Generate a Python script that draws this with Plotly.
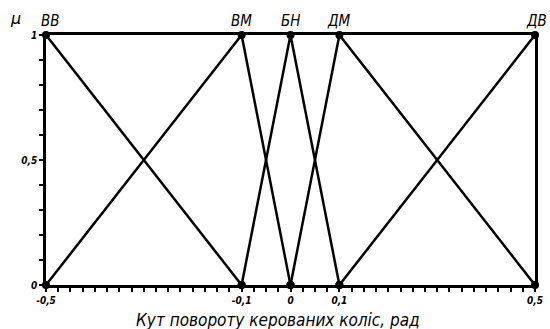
import plotly.graph_objects as go

# ─── Data ────────────────────────────────────────────────────────────────────
TERMS = ["ВВ", "ВМ", "БН", "ДМ", "ДВ"]
PEAKS = [-0.5, -0.1, 0.0, 0.1, 0.5]

# membership functions: (x, mu) vertices
VV_X = [-0.5, -0.1]
VV_Y = [1, 0]
VM_X = [-0.5, -0.1, 0.0]
VM_Y = [0, 1, 0]
BN_X = [-0.1, 0.0, 0.1]
BN_Y = [0, 1, 0]
DM_X = [0.0, 0.1, 0.5]
DM_Y = [0, 1, 0]
DV_X = [0.1, 0.5]
DV_Y = [0, 1]

X_TICKS = [-0.5, -0.1, 0.0, 0.1, 0.5]
X_TICKTEXT = ["-0,5", "-0,1", "0", "0,1", "0,5"]
Y_TICKS = [0, 0.5, 1]
Y_TICKTEXT = ["0", "0,5", "1"]

FONT = "DejaVu Sans Condensed, Liberation Sans Narrow, sans-serif"
BLACK = "#000000"

fig = go.Figure()

for xs, ys in [(VV_X, VV_Y), (VM_X, VM_Y), (BN_X, BN_Y), (DM_X, DM_Y), (DV_X, DV_Y)]:
    fig.add_trace(go.Scatter(
        x=xs, y=ys, mode="lines+markers",
        line=dict(color=BLACK, width=2.5),
        marker=dict(color=BLACK, size=8),
        cliponaxis=False, showlegend=False, hoverinfo="skip",
    ))

# term labels above the peaks (last one kept inside the page)
for term, px_ in zip(TERMS, PEAKS):
    shift = {-0.5: 4, 0.5: 1}.get(px_, 0)
    fig.add_annotation(
        x=px_, y=1, text=term, showarrow=False, yshift=14, xshift=shift,
        font=dict(family=FONT, size=15, color=BLACK, style="italic"),
    )

# mu label (y axis name)
fig.add_annotation(
    xref="paper", yref="paper", x=-31 / 497, y=1 + 16 / 250,
    xanchor="center", yanchor="middle", text="μ", showarrow=False,
    font=dict(family="DejaVu Sans", size=16, color=BLACK, style="italic"),
)

# x axis title
fig.add_annotation(
    xref="paper", yref="paper", x=(282 - 46) / 497, y=-35 / 250, yanchor="middle",
    text="Кут повороту керованих коліс, рад", showarrow=False,
    font=dict(family=FONT, size=17, color=BLACK, style="italic"),
)

fig.update_layout(
    width=550, height=329,
    margin=dict(l=46, r=7, t=35, b=44),
    paper_bgcolor="white", plot_bgcolor="white",
    font=dict(family=FONT, color=BLACK),
)
fig.update_xaxes(
    range=[-0.5, 0.5], showgrid=False, zeroline=False,
    showline=True, mirror=True, linecolor=BLACK, linewidth=2.5,
    tickmode="array", tickvals=X_TICKS, ticktext=X_TICKTEXT,
    ticks="outside", ticklen=4, tickwidth=1.5, tickcolor=BLACK,
    tickfont=dict(family=FONT, size=10, color=BLACK, weight="bold", style="italic"),
    minor=dict(tick0=-0.5, dtick=0.025, ticks="outside", ticklen=4,
               tickwidth=1.5, tickcolor=BLACK, showgrid=False),
)
fig.update_yaxes(
    range=[0, 1], showgrid=False, zeroline=False,
    showline=True, mirror=True, linecolor=BLACK, linewidth=2.5,
    tickmode="array", tickvals=Y_TICKS, ticktext=Y_TICKTEXT,
    ticks="outside", ticklen=4, tickwidth=1.5, tickcolor=BLACK,
    tickfont=dict(family=FONT, size=10, color=BLACK, weight="bold", style="italic"),
    minor=dict(tick0=0, dtick=0.1, ticks="outside", ticklen=4,
               tickwidth=1.5, tickcolor=BLACK, showgrid=False),
)

fig.write_html(
    "out.html",
    config={"displayModeBar": False},
    post_script="document.body.style.margin='0';",
)
